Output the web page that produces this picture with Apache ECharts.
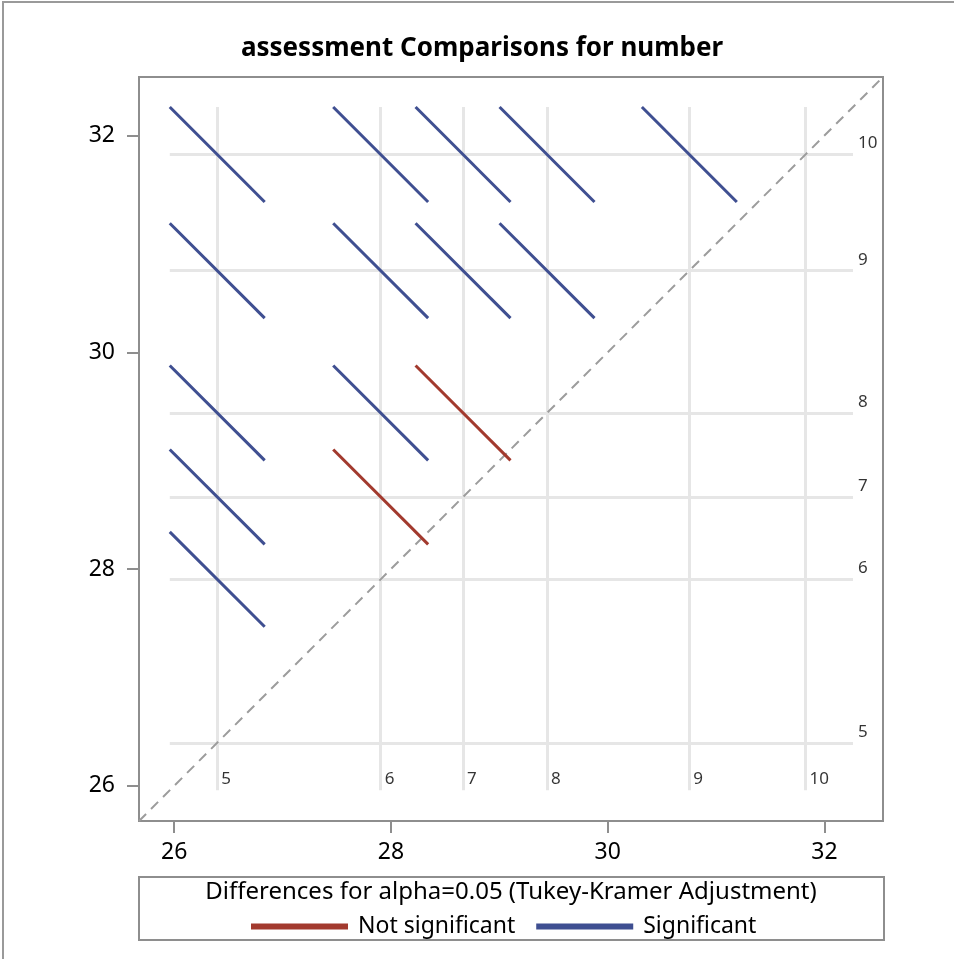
<!DOCTYPE html>
<html>
<head>
<meta charset="utf-8">
<script src="https://cdn.jsdelivr.net/npm/echarts@6/dist/echarts.min.js"></script>
<style>
  html, body { margin: 0; padding: 0; background: #fff; }
  #chart { width: 954px; height: 959px; }
</style>
</head>
<body>
<div id="chart"></div>
<script>
// Levels of "assessment" and their LS-means of "number"
const levels = ['5', '6', '7', '8', '9', '10'];
const means = [26.397, 27.905, 28.665, 29.44, 30.753, 31.825];
// Pairs whose Tukey-Kramer interval for the difference contains zero
const notSignificantPairs = [['6', '7'], ['7', '8']];
// Full width of the adjusted confidence interval for a difference
const ciWidth = 0.876;
// Axis range and tick values
const axisRange = [25.675, 32.54];
const axisTicks = [26, 28, 30, 32];

const title = 'assessment Comparisons for number';
const legendTitle = 'Differences for alpha=0.05 (Tukey-Kramer Adjustment)';

const RED = '#A23A2E';
const BLUE = '#3F4F91';
const FRAME = '#8e8e8e';
const FONT = '"Noto Sans", "DejaVu Sans", sans-serif';

const half = ciWidth / 2;
const lo = Math.min(...means) - half;
const hi = Math.max(...means) + half;

const isNotSig = (a, b) => notSignificantPairs.some(p =>
  (p[0] === a && p[1] === b) || (p[0] === b && p[1] === a));

// Diffogram segments: centred at (mean_i, mean_j), slope -1
const sigSegs = [], nsSegs = [];
for (let i = 0; i < levels.length; i++) {
  for (let j = i + 1; j < levels.length; j++) {
    const seg = { coords: [[means[i] - half, means[j] + half], [means[i] + half, means[j] - half]] };
    (isNotSig(levels[i], levels[j]) ? nsSegs : sigSegs).push(seg);
  }
}

// Reference lines through each mean
const refLines = [];
means.forEach(m => {
  refLines.push({ coords: [[m, lo], [m, hi]] });
  refLines.push({ coords: [[lo, m], [hi, m]] });
});

const labelStyle = { show: true, color: '#000', fontSize: 17, fontFamily: FONT, position: 'right' };

const chart = echarts.init(document.getElementById('chart'), null, { renderer: 'canvas' });
chart.setOption({
  animation: false,
  backgroundColor: '#fff',
  title: {
    text: title, left: 477, top: 31, textAlign: 'center',
    textStyle: { fontFamily: FONT, fontSize: 26, fontWeight: 'bold', color: '#000' }
  },
  grid: {
    left: 139, top: 77, width: 744, height: 744,
    show: true, borderColor: FRAME, borderWidth: 2, backgroundColor: 'transparent'
  },
  xAxis: {
    type: 'value', min: axisRange[0], max: axisRange[1],
    axisLine: { show: true, onZero: false, lineStyle: { color: FRAME, width: 2 } },
    axisTick: { show: true, length: 12, lineStyle: { color: FRAME, width: 2 }, customValues: axisTicks },
    axisLabel: { margin: 20, color: '#000', fontSize: 23, fontFamily: FONT, customValues: axisTicks },
    splitLine: { show: false }
  },
  yAxis: {
    type: 'value', min: axisRange[0], max: axisRange[1],
    axisLine: { show: true, onZero: false, lineStyle: { color: FRAME, width: 2 } },
    axisTick: { show: true, length: 12, lineStyle: { color: FRAME, width: 2 }, customValues: axisTicks },
    axisLabel: { margin: 24, color: '#000', fontSize: 23, fontFamily: FONT, customValues: axisTicks },
    splitLine: { show: false }
  },
  legend: {
    left: 246, top: 910,
    itemWidth: 95, itemHeight: 4, itemGap: 21,
    icon: 'rect',
    textStyle: { fontFamily: FONT, fontSize: 23, color: '#000', padding: [0, 0, 0, 6] },
    data: [
      { name: 'Not significant', itemStyle: { color: RED } },
      { name: 'Significant', itemStyle: { color: BLUE } }
    ]
  },
  graphic: [
    { type: 'rect', shape: { x: 3, y: 2, width: 960, height: 970 },
      style: { fill: 'none', stroke: '#9a9a9a', lineWidth: 2 }, silent: true },
    { type: 'rect', shape: { x: 139, y: 877, width: 745, height: 63 },
      style: { fill: 'none', stroke: FRAME, lineWidth: 2 }, silent: true },
    { type: 'text', x: 511, y: 880,
      style: { text: legendTitle, font: '24px ' + FONT, fill: '#000', textAlign: 'center' },
      silent: true }
  ],
  series: [
    {
      type: 'lines', name: 'ref', coordinateSystem: 'cartesian2d', silent: true, z: 1,
      lineStyle: { color: '#e6e6e6', width: 3, opacity: 1 }, data: refLines
    },
    {
      type: 'lines', name: 'diag', coordinateSystem: 'cartesian2d', silent: true, z: 2,
      lineStyle: { color: '#9c9c9c', width: 2, type: [10, 7], opacity: 1 },
      data: [{ coords: [[axisRange[0], axisRange[0]], [axisRange[1], axisRange[1]]] }]
    },
    {
      type: 'lines', name: 'Significant', coordinateSystem: 'cartesian2d', z: 3,
      itemStyle: { color: BLUE },
      lineStyle: { color: BLUE, width: 3, opacity: 1 }, data: sigSegs
    },
    {
      type: 'lines', name: 'Not significant', coordinateSystem: 'cartesian2d', z: 3,
      itemStyle: { color: RED },
      lineStyle: { color: RED, width: 3, opacity: 1 }, data: nsSegs
    },
    {
      type: 'scatter', name: 'xlab', symbolSize: 0, silent: true, z: 4,
      label: Object.assign({}, labelStyle, { distance: 4, offset: [0, -11], formatter: p => p.data[2] }),
      data: means.map((m, k) => [m, lo, levels[k]])
    },
    {
      type: 'scatter', name: 'ylab', symbolSize: 0, silent: true, z: 4,
      label: Object.assign({}, labelStyle, { distance: 5, offset: [0, -11], formatter: p => p.data[2] }),
      data: means.map((m, k) => [hi, m, levels[k]])
    }
  ]
});
</script>
</body>
</html>
